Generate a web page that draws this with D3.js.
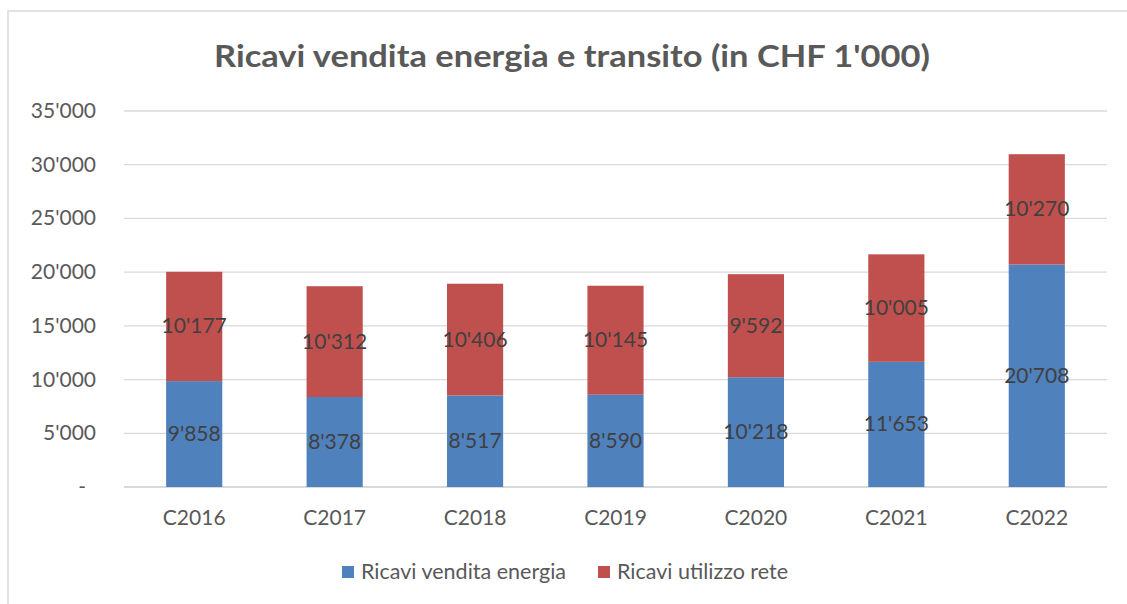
<!DOCTYPE html>
<html><head><meta charset="utf-8">
<script src="https://cdn.jsdelivr.net/npm/d3@7"></script>
<style>body{margin:0;background:#fff}svg{display:block}text{font-family:Lato,"Open Sans",sans-serif}</style>
</head><body>
<svg id="c" width="1127" height="604"></svg>
<script>
const categories = ["C2016","C2017","C2018","C2019","C2020","C2021","C2022"];
const energia = [9858,8378,8517,8590,10218,11653,20708];
const rete = [10177,10312,10406,10145,9592,10005,10270];
const yTicks = [0,5000,10000,15000,20000,25000,30000,35000];
const seriesNames = ["Ricavi vendita energia","Ricavi utilizzo rete"];
const colors = ["#4F81BD","#C0504D"];
const title = "Ricavi vendita energia e transito (in CHF 1'000)";

const loc = d3.formatLocale({decimal:".",thousands:"'",grouping:[3],currency:["",""]});
const fmt = loc.format(",d");
const svg = d3.select("#c");
svg.append("rect").attr("x",8).attr("y",11).attr("width",1140).attr("height",620)
  .attr("fill","#fff").attr("stroke","#D9D9D9").attr("stroke-width",1.5);

const L=124,R=1107,T=111,B=487;
const x = d3.scaleBand().domain(categories).range([L,R]).paddingInner(0.6).paddingOuter(0.3);
const y = d3.scaleLinear().domain([0,35000]).range([B,T]);

svg.append("text").attr("x",214).attr("y",67)
  .attr("font-size",31).attr("font-weight","bold").attr("fill","#595959")
  .attr("textLength",716).attr("lengthAdjust","spacingAndGlyphs").text(title);

svg.append("g").selectAll("line").data(yTicks).join("line")
  .attr("x1",L).attr("x2",R).attr("y1",d=>y(d)).attr("y2",d=>y(d))
  .attr("stroke","#D9D9D9").attr("stroke-width",d=>d===0?2:1.3);

svg.append("g").selectAll("text").data(yTicks).join("text")
  .attr("x",d=>d===0?86:96).attr("y",d=>y(d)+7).attr("text-anchor","end")
  .attr("font-size",21).attr("fill","#595959").text(d=>d===0?"-":fmt(d));

svg.append("g").selectAll("text").data(categories).join("text")
  .attr("x",d=>x(d)+x.bandwidth()/2).attr("y",525).attr("text-anchor","middle")
  .attr("font-size",21).attr("fill","#595959").text(d=>d);

const stacked = categories.map((c,i)=>[
  {c, y0:0, y1:energia[i], v:energia[i], s:0},
  {c, y0:energia[i], y1:energia[i]+rete[i], v:rete[i], s:1}
]).flat();

svg.append("g").selectAll("rect").data(stacked).join("rect")
  .attr("x",d=>x(d.c)).attr("width",x.bandwidth())
  .attr("y",d=>y(d.y1)).attr("height",d=>y(d.y0)-y(d.y1))
  .attr("fill",d=>colors[d.s]);

svg.append("g").selectAll("text").data(stacked).join("text")
  .attr("x",d=>x(d.c)+x.bandwidth()/2).attr("y",d=>y((d.y0+d.y1)/2)+7)
  .attr("text-anchor","middle").attr("font-size",21).attr("fill","#404040")
  .text(d=>fmt(d.v));

const leg = [{x:342,tx:361},{x:598,tx:617}];
seriesNames.forEach((n,i)=>{
  svg.append("rect").attr("x",leg[i].x).attr("y",566).attr("width",12).attr("height",12).attr("fill",colors[i]);
  svg.append("text").attr("x",leg[i].tx).attr("y",579).attr("font-size",21.5).attr("fill","#595959").text(n);
});
</script>
</body></html>
